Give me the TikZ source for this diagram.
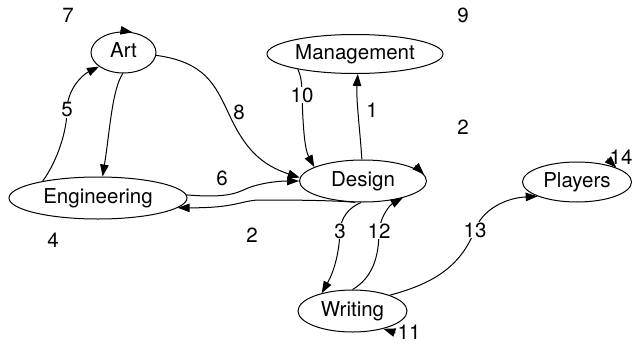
\documentclass[tikz,border=0pt]{standalone}
\usepackage{fontspec}
\setmainfont{TeX Gyre Heros}
\usetikzlibrary{shapes.geometric,arrows.meta}
\begin{document}
\begin{tikzpicture}[x=1pt,y=-1pt,line width=1pt,
  txt/.style={font=\fontsize{20.5}{24}\selectfont},
  ell/.style={ellipse,draw,inner sep=0pt,text height=14.8pt,text depth=4.3pt,txt},
  lab/.style={inner sep=1pt,txt},
  onlab/.style={lab,fill=white},
  arr/.style={-{Triangle[length=12pt,width=8.5pt]}}]
\useasboundingbox (0,0) rectangle (636,345);
% nodes
\node[ell,minimum width=65pt,minimum height=41pt] (art) at (123.5,52.5) {Art};
\node[ell,minimum width=176pt,minimum height=39pt] (man) at (355,54) {Management};
\node[ell,minimum width=178pt,minimum height=42pt] (eng) at (98,198) {Engineering};
\node[ell,minimum width=127pt,minimum height=42pt] (des) at (363,181) {Design};
\node[ell,minimum width=109pt,minimum height=40pt] (pla) at (577,182) {Players};
\node[ell,minimum width=109pt,minimum height=42pt] (wri) at (352.5,311) {Writing};
% label positions on paths
\coordinate (p5) at (67,110);
\coordinate (p10) at (302,95);
\coordinate (p3) at (340,231);
\coordinate (p12) at (379,231);
\coordinate (p13) at (475,230);
% edges
\draw[arr] (eng.163) .. controls (58,160) and (67,130) .. (p5) .. controls (67,90) and (82,75) .. (art.210);
\draw[arr] (art.268) .. controls (112,90) and (110,130) .. (eng.78);
\draw[arr] (art.-5) .. controls (205,62) and (215,85) .. (228,112) .. controls (245,150) and (262,165) .. (des.177);
\draw[arr] (man.195) .. controls (301,76) and (302,84) .. (p10) .. controls (303,130) and (305,150) .. (des.164);
\draw[arr] (des.93) .. controls (360,130) and (356,100) .. (man.278);
\draw[arr] (eng.2) .. controls (225,198) and (235,194) .. (248,188) .. controls (258,184) and (275,181) .. (des.180);
\draw[arr] (des.250) .. controls (330,200) and (280,200) .. (258,200) .. controls (240,201) and (235,208) .. (eng.-7);
\draw[arr] (des.265) .. controls (348,208) and (341,218) .. (p3) .. controls (339,258) and (332,275) .. (wri.150);
\draw[arr] (wri.90) .. controls (372,278) and (379,258) .. (p12) .. controls (381,215) and (390,205) .. (des.-23);
\draw[arr] (wri.23) .. controls (440,282) and (462,262) .. (p13) .. controls (482,210) and (505,198) .. (pla.200);
% self-loop arrowheads
\draw[arr] ([shift={(-12,-2)}]art.66) -- (art.66);
\draw[arr] ([shift={(-9,-9)}]des.6) -- (des.6);
\draw[arr] ([shift={(-9,-9)}]pla.20) -- (pla.20);
\draw[arr] ([shift={(12,4)}]wri.-30) -- (wri.-30);
% labels
\node[onlab] (l5) at (p5) {5};
\node[onlab] (l10) at (p10) {10};
\node[onlab] (l3) at (p3) {3};
\node[onlab] (l12) at (p12) {12};
\node[onlab] (l13) at (p13) {13};
\node[lab] (l7) at (68,15) {7};
\node[lab] (l9) at (463,15) {9};
\node[lab] (l8) at (239,112) {8};
\node[lab] (l1) at (372,110) {1};
\node[lab] (l2a) at (463,127) {2};
\node[lab] (l6) at (222,178) {6};
\node[lab] (l14) at (621,157) {14};
\node[lab] (l4) at (53,240) {4};
\node[lab] (l2b) at (252,235) {2};
\node[lab] (l11) at (409,332) {11};
\end{tikzpicture}
\end{document}
